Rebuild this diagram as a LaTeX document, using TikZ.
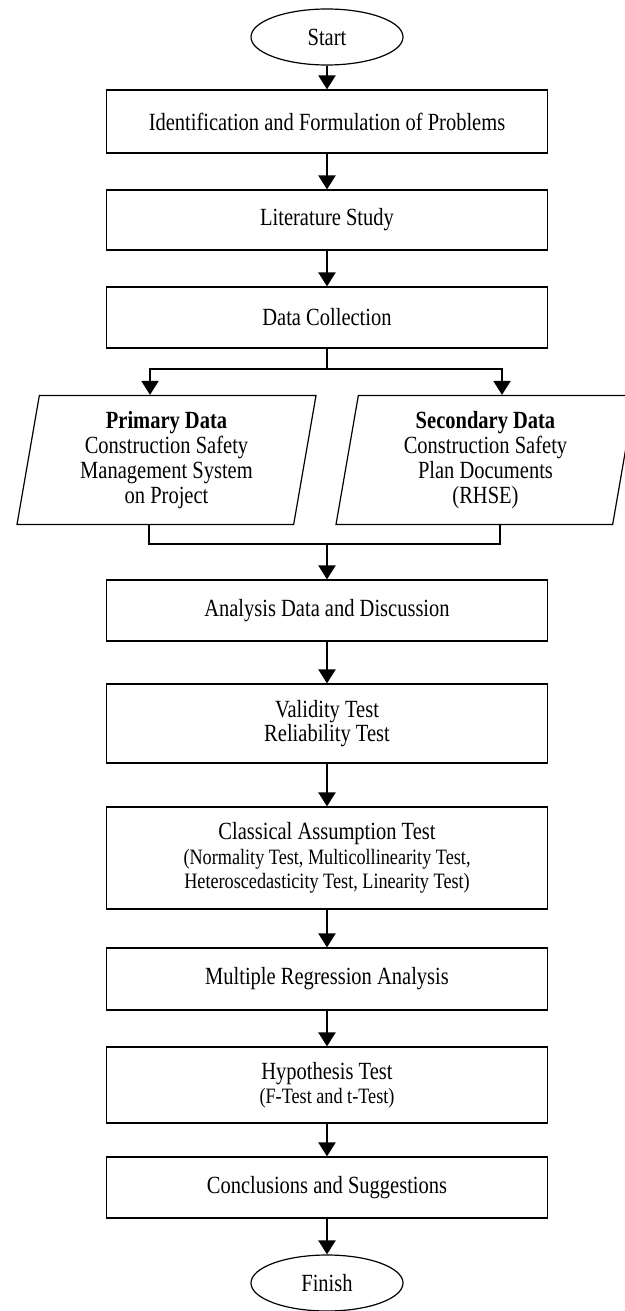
\documentclass[tikz,border=0pt]{standalone}
\usepackage{fontspec}
\setmainfont{Liberation Serif}[FakeStretch=0.83]
\usetikzlibrary{
arrows.meta,
shapes.geometric,
positioning,
calc
}
\newcommand\detailsize{\fontsize{10.96}{12.2}\selectfont}

\begin{document}
\begin{tikzpicture}[x=0.5pt,y=-0.5pt,
    stepbox/.style={draw, line width=0.6pt, rectangle, minimum width=220.5pt, inner sep=0pt,
      align=center, font=\fontsize{12.35}{12.2}\selectfont},
    terminal/.style={draw, line width=0.6pt, ellipse, minimum width=76pt, minimum height=28pt,
      inner sep=0pt, font=\fontsize{12.35}{12.2}\selectfont},
    databox/.style={draw, line width=0.6pt, trapezium, trapezium left angle=77, trapezium right angle=103,
      trapezium stretches body, minimum width=149.5pt, minimum height=64.5pt, inner sep=0pt,
      align=center, font=\fontsize{12.35}{12.4}\selectfont},
    flow/.style={line width=1.1pt, -{Triangle[length=7pt,width=8.5pt]}},
    joinline/.style={line width=1.1pt}]
    \useasboundingbox (0,0) rectangle (625,1311);
    \clip (0,0) rectangle (625,1311);
    % main column
    \node[terminal] (start) at (327,37) {Start};
    \node[stepbox, minimum height=31.5pt] (problem) at (327,121.5) {Identification and Formulation of Problems};
    \node[stepbox, minimum height=30pt] (study) at (327,220) {Literature Study};
    \node[stepbox, minimum height=30.5pt] (collect) at (327,317.5) {Data Collection};
    % the two data sources
    \node[databox] (primary) at (166.5,460) {\textbf{Primary Data}\\Construction Safety\\Management System\\on Project};
    \node[databox] (secondary) at (485.5,460) {\textbf{Secondary Data}\\Construction Safety\\Plan Documents\\(RHSE)};
    \node[stepbox, minimum height=30.5pt] (analysis) at (327,610.5) {Analysis Data and Discussion};
    \node[stepbox, minimum height=39.5pt] (validity) at (327,723.5) {Validity Test\\Reliability Test};
    \node[stepbox, minimum height=51pt] (classical) at (327,858) {Classical Assumption Test\\
      {\detailsize (Normality Test, Multicollinearity Test,}\\
      {\detailsize Heteroscedasticity Test, Linearity Test)}};
    \node[stepbox, minimum height=31pt] (regression) at (327,979) {Multiple Regression Analysis};
    \node[stepbox, minimum height=38pt] (hypothesis) at (327,1085) {Hypothesis Test\\{\detailsize (F-Test and t-Test)}};
    \node[stepbox, minimum height=30.5pt] (conclude) at (327,1187.5) {Conclusions and Suggestions};
    \node[terminal] (finish) at (327,1283) {Finish};

    \foreach \a/\b in {start/problem, problem/study, study/collect, analysis/validity,
      validity/classical, classical/regression, regression/hypothesis, hypothesis/conclude, conclude/finish}
      \draw[flow] (\a) -- (\b);

    % split into primary and secondary data
    \coordinate (fork) at (327,369);
    \coordinate (forkL) at (150,369);
    \coordinate (forkR) at (502,369);
    \draw[joinline] (collect) -- (fork);
    \draw[flow] (fork) -| (forkL |- primary.north);
    \draw[flow] (fork) -| (forkR |- secondary.north);

    % merge back
    \coordinate (mergeL) at (149,544);
    \coordinate (mergeR) at (500,544);
    \draw[joinline] (mergeL |- primary.south) -- (mergeL) -- (mergeR) -- (mergeR |- secondary.south);
    \draw[flow] (analysis.north |- mergeL) -- (analysis);
\end{tikzpicture}
\end{document}
